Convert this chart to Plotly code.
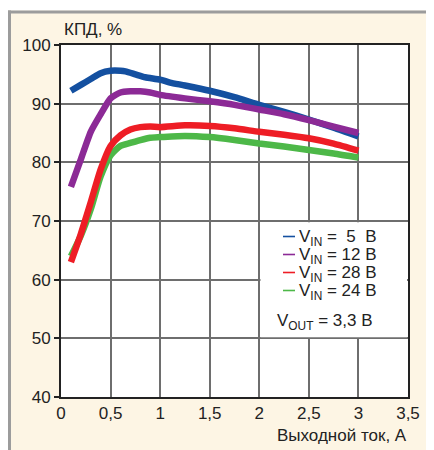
import plotly.graph_objects as go

# ---- data ----
x_blue = [0.1, 0.2, 0.3, 0.4, 0.5, 0.6, 0.65, 0.75, 0.85, 1.0, 1.1, 1.25, 1.5, 1.75, 2.0, 2.25, 2.5, 2.75, 3.0]
y_blue = [92.2, 93.2, 94.2, 95.2, 95.6, 95.6, 95.5, 95.0, 94.5, 94.1, 93.6, 93.1, 92.2, 91.1, 89.8, 88.6, 87.3, 85.9, 84.4]

x_pts = [0.1, 0.2, 0.3, 0.4, 0.5, 0.6, 0.7, 0.8, 0.9, 1.0, 1.25, 1.5, 1.75, 2.0, 2.25, 2.5, 2.75, 3.0]
y_purple = [75.8, 80.5, 85.2, 88.2, 90.9, 91.9, 92.1, 92.1, 91.9, 91.5, 90.9, 90.4, 89.8, 89.0, 88.2, 87.2, 86.1, 85.0]
y_red = [63.0, 67.8, 73.2, 78.8, 82.8, 84.6, 85.6, 86.0, 86.1, 86.0, 86.3, 86.2, 85.8, 85.2, 84.7, 84.1, 83.2, 82.0]
y_green = [64.0, 67.5, 72.0, 77.6, 81.2, 82.8, 83.3, 83.8, 84.2, 84.3, 84.5, 84.3, 83.8, 83.2, 82.7, 82.1, 81.5, 80.8]

x_ticks = [0, 0.5, 1, 1.5, 2, 2.5, 3, 3.5]
x_ticktext = ["0", "0,5", "1", "1,5", "2", "2,5", "3", "3,5"]
y_ticks = [40, 50, 60, 70, 80, 90, 100]

legend_labels = ["V<sub>IN</sub> =\u00a0\u00a05\u00a0\u00a0В", "V<sub>IN</sub> = 12 В",
                 "V<sub>IN</sub> = 28 В", "V<sub>IN</sub> = 24 В"]
vout_label = "V<sub>OUT</sub> = 3,3 В"

C_BLUE, C_PURPLE, C_RED, C_GREEN = "#1450A0", "#8C2A96", "#EE1D25", "#4DB848"
FONT = "Liberation Sans Narrow, Liberation Sans"

fig = go.Figure()
for xs, ys, c in [(x_blue, y_blue, C_BLUE), (x_pts, y_purple, C_PURPLE),
                  (x_pts, y_green, C_GREEN), (x_pts, y_red, C_RED)]:
    fig.add_trace(go.Scatter(x=xs, y=ys, mode="lines",
                             line=dict(color=c, width=6.5, shape="spline", smoothing=0.6),
                             showlegend=False, hoverinfo="skip"))

# page has an 8px body offset; work in page pixels and convert
OFF = 8
W, H = 434 - OFF, 450 - OFF
L, R, T, B = 61 - OFF, 434 - 408, 45 - OFF, 450 - 397
pw, ph = W - L - R, H - T - B
def px(p): return (p - OFF - L) / pw
def py(p): return (H - B - (p - OFF)) / ph

shapes = [
    # white top strip
    dict(type="rect", xref="paper", yref="paper", x0=px(0), x1=px(440), y0=py(10.5), y1=py(0),
         fillcolor="white", line=dict(width=0), layer="below"),
    # gray frame
    dict(type="line", xref="paper", yref="paper", x0=px(8), x1=px(440), y0=py(12), y1=py(12),
         line=dict(color="#9C9C9C", width=3)),
    dict(type="line", xref="paper", yref="paper", x0=px(9.5), x1=px(9.5), y0=py(10.5), y1=py(455),
         line=dict(color="#9C9C9C", width=3)),
    # white legend cell hiding grid
    dict(type="rect", xref="x", yref="y", x0=2.012, x1=3.49, y0=50.2, y1=69.8,
         fillcolor="white", line=dict(width=0), layer="between"),
]

TXT = "#222"
annotations = [
    dict(x=px(62), y=py(30), xref="paper", yref="paper", text="КПД, %", showarrow=False,
         xanchor="left", yanchor="middle", font=dict(family=FONT, size=17, color=TXT)),
    dict(x=px(409), y=py(435), xref="paper", yref="paper", text="Выходной ток, А", showarrow=False,
         xanchor="right", yanchor="middle", font=dict(family=FONT, size=17, color=TXT)),
]
leg_y = [237.5, 255.5, 273.5, 291.5]
for lbl, c, yy in zip(legend_labels, [C_BLUE, C_PURPLE, C_RED, C_GREEN], leg_y):
    shapes.append(dict(type="line", xref="paper", yref="paper", x0=px(283), x1=px(295),
                       y0=py(yy - 1), y1=py(yy - 1), line=dict(color=c, width=1.6)))
    annotations.append(dict(x=px(297), y=py(yy), xref="paper", yref="paper",
                            text=lbl, showarrow=False,
                            xanchor="left", yanchor="middle",
                            font=dict(family=FONT, size=17, color=TXT)))
annotations.append(dict(x=px(275), y=py(322), xref="paper", yref="paper", text=vout_label,
                        showarrow=False, xanchor="left", yanchor="middle",
                        font=dict(family=FONT, size=17, color=TXT)))

fig.update_layout(
    width=W, height=H,
    margin=dict(l=L, r=R, t=T, b=B),
    paper_bgcolor="#FDF5E4", plot_bgcolor="white",
    shapes=shapes, annotations=annotations,
    font=dict(family=FONT, size=17, color=TXT),
    xaxis=dict(range=[0, 3.5], tickvals=x_ticks, ticktext=x_ticktext, showgrid=True,
               gridcolor="#6E6E6E", gridwidth=1.5, zeroline=False,
               showline=True, linecolor="#222", linewidth=2, mirror=True,
               ticks="", tickfont=dict(family=FONT, size=17, color=TXT)),
    yaxis=dict(range=[40, 100], tickvals=y_ticks, showgrid=True,
               gridcolor="#6E6E6E", gridwidth=1.5, zeroline=False,
               showline=True, linecolor="#222", linewidth=2, mirror=True,
               ticks="outside", ticklen=5, tickcolor="#222", tickwidth=1.5,
               tickfont=dict(family=FONT, size=17, color=TXT)),
)

fig.write_html("out.html")
